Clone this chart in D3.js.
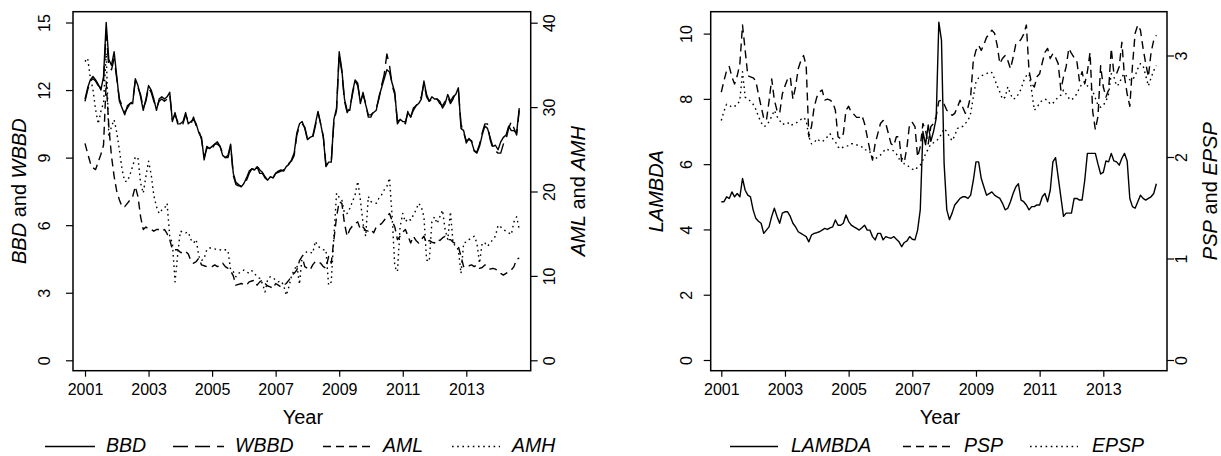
<!DOCTYPE html>
<html><head><meta charset="utf-8">
<script src="https://cdn.jsdelivr.net/npm/d3@7"></script>
<style>
body{margin:0;background:#fff}
svg{display:block}
text{font-family:"Liberation Sans",Arial,Helvetica,sans-serif;fill:#000}
</style>
</head><body>
<svg id="c" width="1221" height="456"></svg>
<script>
// ---------- data ----------
const startYear = 2001;            // first observation: January 2001, monthly
const xTickYears = [2001, 2003, 2005, 2007, 2009, 2011, 2013];
const ticksBBD = [0, 3, 6, 9, 12, 15];
const ticksAM = [0, 10, 20, 30, 40];
const ticksLAMBDA = [0, 2, 4, 6, 8, 10];
const ticksPSP = [0, 1, 2, 3];

const BBD = [
 11.6,12.1,12.45,12.6,12.45,12.25,12.0,12.6,15.0,13.35,13.1,13.7,
 12.6,11.5,11.2,10.9,11.3,11.4,11.4,12.5,12.2,11.7,11.1,11.6,
 12.2,12.0,11.6,11.1,11.6,11.7,11.6,11.7,11.9,10.6,11.0,10.5,
 10.5,10.6,11.0,10.5,10.6,10.7,10.5,10.1,9.9,8.9,9.5,9.4,
 9.5,9.6,9.7,9.5,9.1,9.0,9.1,9.6,8.3,7.9,7.8,7.7,
 7.85,8.1,8.4,8.5,8.45,8.6,8.3,8.3,8.1,8.0,8.15,8.1,
 8.3,8.4,8.45,8.4,8.6,8.7,8.9,9.2,10.1,10.5,10.6,10.3,
 9.8,9.9,9.95,10.5,11.05,10.5,9.9,8.6,8.8,8.8,10.7,11.2,
 13.7,12.9,11.6,11.1,11.1,11.9,12.45,12.3,11.4,11.9,11.35,10.9,
 10.9,11.0,11.1,11.7,12.1,12.5,12.9,12.8,12.3,11.9,10.5,10.7,
 10.6,10.6,11.0,10.8,11.2,11.3,11.4,11.6,12.4,11.8,11.5,11.7,
 11.6,11.6,11.5,11.2,11.4,11.8,11.5,11.7,11.8,12.1,10.3,10.2,
 9.65,9.85,9.7,9.3,9.2,9.5,10.0,10.4,10.3,9.9,9.5,9.55,
 9.35,9.7,9.9,10.0,10.4,10.2,10.2,10.1,11.2];

const WBBD = [
 11.5,12.0,12.4,12.5,12.4,12.2,12.1,12.4,14.6,13.0,12.9,13.4,
 12.5,11.6,11.3,11.0,11.2,11.4,11.5,12.4,12.1,11.8,11.2,11.5,
 12.1,11.9,11.5,11.2,11.5,11.6,11.5,11.6,11.8,10.7,10.9,10.6,
 10.4,10.5,10.9,10.6,10.5,10.8,10.4,10.2,9.8,9.0,9.4,9.5,
 9.4,9.6,9.6,9.5,9.2,9.0,9.0,9.5,8.2,7.8,7.75,7.75,
 7.9,8.0,8.3,8.5,8.5,8.65,8.45,8.35,8.15,8.0,8.1,8.1,
 8.3,8.35,8.4,8.45,8.55,8.75,8.85,9.1,10.0,10.4,10.5,10.35,
 9.85,9.9,9.9,10.4,11.0,10.5,9.95,8.65,8.8,8.8,10.6,11.1,
 13.6,12.8,11.5,11.0,11.2,11.8,12.4,12.2,11.5,11.8,11.4,10.8,
 10.8,11.1,11.2,11.6,12.2,12.7,13.6,13.1,12.2,11.8,10.6,10.7,
 10.7,10.5,11.1,10.8,11.1,11.3,11.5,11.7,12.3,11.7,11.5,11.6,
 11.5,11.6,11.4,11.3,11.5,11.7,11.4,11.6,11.9,12.0,10.5,10.1,
 9.75,9.8,9.75,9.3,9.25,9.6,10.1,10.5,10.5,9.8,9.4,9.3,
 9.2,9.2,9.6,9.8,10.3,10.6,10.3,10.0,11.1];

const AML = [
 25.7,24.5,23.4,22.8,22.6,23.5,24.4,25.5,33.0,27.7,24.2,21.8,
 20.0,19.0,18.2,18.2,18.6,19.0,19.4,20.6,19.4,17.0,15.5,15.8,
 15.5,15.5,15.3,15.5,15.5,15.3,15.5,15.0,14.3,13.1,13.1,13.1,
 12.8,12.7,12.9,12.6,11.8,11.5,11.7,12.1,11.3,11.2,11.1,11.1,
 11.1,11.3,11.1,11.2,11.5,11.1,10.9,10.6,10.0,8.9,9.0,9.1,
 9.0,8.9,9.3,9.4,9.5,8.9,9.3,9.5,9.1,8.8,8.7,8.5,
 9.1,8.9,8.7,8.9,9.1,9.5,10.0,10.3,10.7,11.8,12.3,11.1,
 10.9,10.7,11.3,11.7,11.7,11.5,11.1,10.9,12.3,11.5,14.3,17.0,
 18.8,18.6,16.2,14.7,15.5,15.9,16.2,16.4,15.5,15.8,15.4,15.3,
 15.5,15.1,15.8,16.0,16.2,16.6,17.0,17.4,16.5,15.8,14.3,14.7,
 15.2,15.5,14.7,13.9,14.7,14.2,13.9,14.3,14.7,13.9,14.2,14.0,
 13.9,14.3,14.2,14.5,14.7,14.3,14.3,14.0,13.8,13.5,12.3,11.1,
 11.3,11.2,11.3,11.1,11.3,10.9,11.0,11.3,11.1,10.8,10.9,10.8,
 10.6,10.3,10.1,10.3,10.5,10.7,11.1,12.0,12.1];

const AMH = [
 35.4,35.8,33.5,32.1,29.7,28.0,29.5,30.5,36.4,26.5,27.7,28.5,
 27.0,24.9,22.6,21.2,21.2,22.0,23.0,24.1,24.0,21.0,19.8,21.8,
 23.6,22.0,19.5,18.2,17.4,17.8,18.0,18.6,14.7,13.9,9.3,12.5,
 15.3,15.2,15.1,15.2,14.3,13.9,14.3,12.3,11.8,12.1,13.1,13.3,
 13.3,13.2,13.1,13.1,13.0,13.1,13.0,10.7,10.5,9.9,10.3,10.5,
 10.7,10.5,10.3,10.6,10.3,9.9,9.7,9.1,8.1,9.6,9.9,9.8,
 9.5,9.3,9.4,8.9,7.7,8.7,10.0,10.7,11.3,9.0,12.3,12.7,
 12.9,12.8,12.7,14.1,13.5,13.3,13.1,13.1,8.9,9.3,14.7,19.8,
 19.3,19.0,17.4,17.4,18.0,18.8,19.6,21.2,19.0,16.2,14.7,19.4,
 18.8,18.7,18.6,19.2,19.6,20.2,20.6,21.6,17.0,11.1,10.5,15.8,
 17.4,16.4,16.8,16.6,17.2,17.8,18.6,18.2,17.0,11.9,11.7,16.4,
 17.0,16.2,17.0,17.8,15.5,14.3,17.6,13.9,13.5,13.1,10.3,13.9,
 14.0,14.3,14.5,14.7,13.9,11.5,13.9,13.9,13.5,13.9,14.3,14.7,
 16.0,15.8,15.5,15.3,15.1,14.9,16.4,17.0,15.5];

const LAMBDA = [
 4.85,4.85,5.0,4.95,5.15,5.0,5.1,5.0,5.56,5.2,5.05,5.0,
 4.6,4.34,4.25,4.19,3.88,3.98,4.08,4.4,4.65,4.4,4.19,4.5,
 4.54,4.54,4.4,4.19,4.08,3.93,3.88,3.83,3.78,3.62,3.83,3.88,
 3.9,3.93,3.98,4.03,4.0,4.05,4.08,4.29,4.13,4.13,4.19,4.44,
 4.24,4.13,4.08,4.03,3.98,4.05,4.13,3.98,3.98,3.78,3.68,3.88,
 3.88,3.68,3.78,3.75,3.73,3.78,3.7,3.62,3.47,3.6,3.65,3.78,
 3.7,3.68,3.98,4.6,7.0,6.6,7.2,6.7,7.0,7.4,10.35,9.8,
 6.0,4.6,4.3,4.5,4.75,4.85,4.95,5.0,5.0,4.95,5.05,5.5,
 6.07,6.07,5.56,5.3,5.05,5.1,5.15,5.05,5.0,4.95,4.8,4.6,
 4.65,4.85,5.1,5.3,5.4,4.9,4.85,4.75,4.6,4.7,4.7,4.75,
 4.75,5.0,5.1,4.85,5.2,6.07,6.2,5.6,5.0,4.4,4.5,4.5,
 4.5,4.95,4.95,4.9,4.9,5.5,6.33,6.33,6.33,6.33,6.0,5.7,
 5.75,6.1,6.07,6.33,6.1,6.07,5.97,6.18,6.33,6.1,4.95,4.7,
 4.65,4.85,5.05,4.95,4.9,4.95,5.0,5.1,5.4];

const PSP = [
 2.64,2.75,2.85,2.89,2.79,2.72,2.8,2.92,3.3,3.05,2.8,2.79,
 2.78,2.75,2.62,2.5,2.38,2.36,2.55,2.77,2.56,2.46,2.43,2.62,
 2.7,2.77,2.79,2.57,2.69,2.87,2.95,3.0,2.9,2.2,2.3,2.49,
 2.59,2.64,2.66,2.56,2.57,2.56,2.54,2.46,2.2,2.18,2.23,2.46,
 2.5,2.44,2.42,2.39,2.39,2.41,2.33,2.2,2.07,1.97,2.13,2.23,
 2.33,2.36,2.33,2.23,2.13,2.11,2.2,2.2,1.95,1.95,2.1,2.33,
 2.34,2.3,2.0,2.1,2.33,2.26,2.13,2.3,2.33,2.4,2.55,2.56,
 2.52,2.46,2.44,2.41,2.43,2.49,2.56,2.49,2.43,2.49,2.6,2.95,
 3.05,3.1,3.05,3.11,3.18,3.21,3.25,3.22,3.1,2.92,2.97,3.0,
 2.95,2.87,2.98,3.11,3.13,3.16,3.21,3.3,2.85,2.72,2.69,2.79,
 2.82,2.93,3.03,3.07,2.97,3.02,2.98,2.92,2.66,2.79,2.89,3.07,
 3.02,2.98,2.95,2.75,2.84,2.72,2.84,3.03,2.45,2.27,2.4,2.9,
 2.69,2.59,2.66,3.07,2.82,2.82,2.89,3.13,2.79,2.62,2.5,2.9,
 3.22,3.3,3.25,3.07,2.92,2.79,3.03,3.15,3.2];

const EPSP = [
 2.36,2.45,2.52,2.51,2.49,2.5,2.51,2.56,2.84,2.59,2.57,2.55,
 2.52,2.47,2.4,2.34,2.3,2.31,2.35,2.4,2.46,2.4,2.36,2.32,
 2.33,2.34,2.31,2.32,2.33,2.35,2.37,2.39,2.36,2.2,2.13,2.14,
 2.18,2.16,2.15,2.17,2.2,2.23,2.18,2.15,2.1,2.08,2.1,2.11,
 2.11,2.13,2.13,2.12,2.11,2.1,2.07,2.07,2.05,2.0,1.98,2.0,
 2.02,2.05,2.08,2.07,2.07,2.06,2.03,1.98,2.0,1.93,1.92,1.9,
 1.88,1.87,1.9,1.92,1.97,2.03,2.08,2.13,2.14,2.16,2.18,2.23,
 2.28,2.25,2.2,2.16,2.21,2.28,2.3,2.3,2.33,2.36,2.43,2.59,
 2.74,2.78,2.8,2.81,2.82,2.84,2.83,2.77,2.7,2.64,2.57,2.59,
 2.69,2.62,2.57,2.58,2.62,2.67,2.75,2.8,2.82,2.65,2.46,2.49,
 2.53,2.56,2.57,2.56,2.52,2.53,2.56,2.59,2.61,2.66,2.62,2.58,
 2.56,2.59,2.62,2.68,2.72,2.74,2.7,2.69,2.65,2.58,2.51,2.49,
 2.51,2.55,2.62,2.82,2.79,2.7,2.72,2.79,2.82,2.79,2.76,2.76,
 2.8,2.87,2.92,2.9,2.8,2.7,2.78,2.85,2.9];

// ---------- drawing ----------
const svg = d3.select("#c");
const FONT_TICK = 16, FONT_LAB = 20, FONT_LEG = 19.5;
const DASH = {solid: null, longdash: "15,7", dashed: "8,5", dotted: "1.6,3.6"};
const LW = 1.4;

function drawPanel(cfg) {
  const g = svg.append("g");
  const n = cfg.series[0].values.length;
  const t = d3.range(n).map(i => startYear + i / 12);
  const x = d3.scaleLinear().domain([2001, 2013]).range(cfg.xr);
  const yL = d3.scaleLinear().domain(cfg.yLdom).range(cfg.yLr);
  const yR = d3.scaleLinear().domain(cfg.yRdom).range(cfg.yRr);
  const b = cfg.box;

  cfg.series.forEach(s => {
    const y = s.axis === "L" ? yL : yR;
    const line = d3.line().x((d, i) => x(t[i])).y(d => y(d));
    g.append("path").datum(s.values)
      .attr("d", line).attr("fill", "none").attr("stroke", "#000")
      .attr("stroke-width", LW).attr("stroke-linejoin", "round")
      .attr("stroke-dasharray", DASH[s.lty]);
  });

  g.append("rect").attr("x", b.x0).attr("y", b.y0)
    .attr("width", b.x1 - b.x0).attr("height", b.y1 - b.y0)
    .attr("fill", "none").attr("stroke", "#000").attr("stroke-width", 1.5);

  const fmt = d3.format("d");
  const ax = g.append("g").attr("transform", `translate(0,${b.y1})`)
    .call(d3.axisBottom(x).tickValues(xTickYears).tickFormat(fmt).tickSize(6).tickSizeOuter(0));
  ax.select(".domain").remove();
  ax.selectAll("line").attr("stroke-width", 1.2);
  ax.selectAll("text").attr("y", 24.5).attr("dy", 0).style("font-size", FONT_TICK + "px");

  const al = g.append("g").attr("transform", `translate(${b.x0},0)`)
    .call(d3.axisLeft(yL).tickValues(cfg.yLticks).tickFormat(fmt).tickSize(7).tickSizeOuter(0));
  al.select(".domain").remove();
  al.selectAll("line").attr("stroke-width", 1.2);
  al.selectAll("text").attr("x", 0).attr("dy", 0).attr("text-anchor", "middle")
    .attr("transform", `translate(${-cfg.lOff},0) rotate(-90)`).style("font-size", FONT_TICK + "px");

  const ar = g.append("g").attr("transform", `translate(${b.x1},0)`)
    .call(d3.axisRight(yR).tickValues(cfg.yRticks).tickFormat(fmt).tickSize(7).tickSizeOuter(0));
  ar.select(".domain").remove();
  ar.selectAll("line").attr("stroke-width", 1.2);
  ar.selectAll("text").attr("x", 0).attr("dy", 0).attr("text-anchor", "middle")
    .attr("transform", `translate(${cfg.rOff},0) rotate(-90)`).style("font-size", FONT_TICK + "px");

  const cy = (b.y0 + b.y1) / 2;
  function title(xpos, parts) {
    const tx = g.append("text").attr("transform", `translate(${xpos},${cy}) rotate(-90)`)
      .attr("text-anchor", "middle").style("font-size", FONT_LAB + "px");
    parts.forEach(p => tx.append("tspan").attr("font-style", p[1] ? "italic" : "normal").text(p[0]));
  }
  title(cfg.lTitleX, cfg.lTitle);
  title(cfg.rTitleX, cfg.rTitle);

  g.append("text").attr("x", (b.x0 + b.x1) / 2 + 1).attr("y", 423.5)
    .attr("text-anchor", "middle").style("font-size", FONT_LAB + "px").text("Year");

  cfg.legend.forEach(l => {
    const s = cfg.series.find(d => d.name === l.name);
    g.append("line").attr("x1", l.x1).attr("x2", l.x2).attr("y1", 446.5).attr("y2", 446.5)
      .attr("stroke", "#000").attr("stroke-width", LW).attr("stroke-dasharray", DASH[s.lty]);
    g.append("text").attr("x", l.tx).attr("y", 451.5).style("font-size", FONT_LEG + "px")
      .attr("font-style", "italic").text(l.name);
  });
}

drawPanel({
  box: {x0: 73, x1: 530.7, y0: 11.7, y1: 370.7},
  xr: [85, 466.3],
  yLdom: [0, 15], yLr: [360.3, 22.5], yLticks: ticksBBD,
  yRdom: [0, 40], yRr: [360.3, 22.7], yRticks: ticksAM,
  lOff: 23, rOff: 24.3,
  lTitleX: 26, rTitleX: 585,
  lTitle: [["BBD", true], [" and ", false], ["WBBD", true]],
  rTitle: [["AML", true], [" and ", false], ["AMH", true]],
  series: [
    {name: "AMH", values: AMH, axis: "R", lty: "dotted"},
    {name: "AML", values: AML, axis: "R", lty: "dashed"},
    {name: "WBBD", values: WBBD, axis: "L", lty: "longdash"},
    {name: "BBD", values: BBD, axis: "L", lty: "solid"}
  ],
  legend: [
    {name: "BBD", x1: 45, x2: 95, tx: 106},
    {name: "WBBD", x1: 173, x2: 224, tx: 235},
    {name: "AML", x1: 323, x2: 372, tx: 383},
    {name: "AMH", x1: 452, x2: 500, tx: 512}
  ]
});

drawPanel({
  box: {x0: 710.7, x1: 1167, y0: 11.7, y1: 370.7},
  xr: [721.3, 1103.3],
  yLdom: [0, 10], yLr: [360, 33.6], yLticks: ticksLAMBDA,
  yRdom: [0, 3], yRr: [360, 55.5], yRticks: ticksPSP,
  lOff: 19, rOff: 19.7,
  lTitleX: 663, rTitleX: 1216.5,
  lTitle: [["LAMBDA", true]],
  rTitle: [["PSP", true], [" and ", false], ["EPSP", true]],
  series: [
    {name: "EPSP", values: EPSP, axis: "R", lty: "dotted"},
    {name: "PSP", values: PSP, axis: "R", lty: "dashed"},
    {name: "LAMBDA", values: LAMBDA, axis: "L", lty: "solid"}
  ],
  legend: [
    {name: "LAMBDA", x1: 730, x2: 778, tx: 791},
    {name: "PSP", x1: 903, x2: 952, tx: 964},
    {name: "EPSP", x1: 1030, x2: 1078, tx: 1092}
  ]
});
</script>
</body></html>
